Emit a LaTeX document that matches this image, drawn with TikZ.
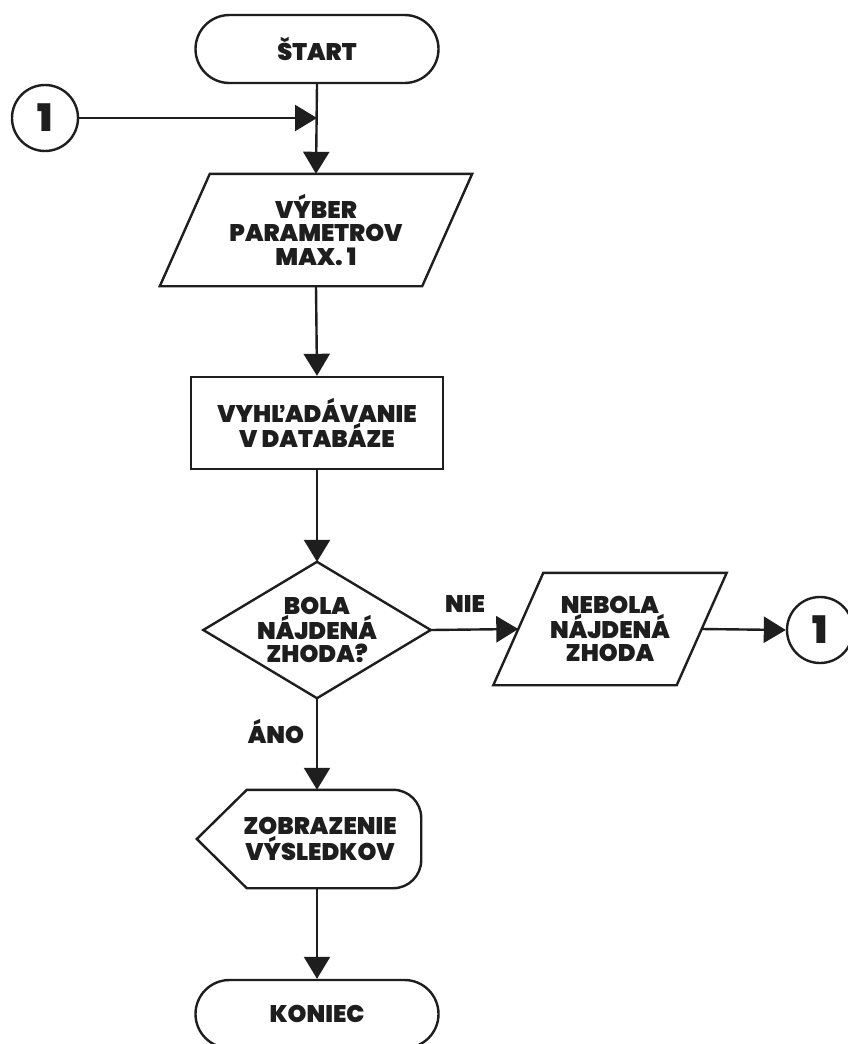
\documentclass[tikz,border=0pt]{standalone}
\usepackage{fontspec}
\setmainfont{Poppins}
\newfontfamily\heavy{Poppins Black}
\usetikzlibrary{arrows.meta,shapes.misc,calc}
\definecolor{ink}{HTML}{1E1E1E}
\tikzset{
  every node/.style={font=\heavy\fontsize{24}{23.5}\selectfont, text=ink, align=center},
  ln/.style={draw=ink, line width=2.4pt},
  arr/.style={ln, -{Triangle[length=22pt,width=26pt]}},
  term/.style={ln, shape=rounded rectangle, minimum width=243pt, minimum height=68pt, inner sep=0pt},
  conn/.style={ln, shape=circle, minimum size=66pt, inner sep=0pt, font=\heavy\fontsize{38}{38}\selectfont},
  box/.style={draw=none, shape=rectangle, inner sep=0pt},
  lbl/.style={draw=none, inner sep=0pt}
}
\begin{document}
\begin{tikzpicture}[x=1pt,y=-1pt]
\useasboundingbox (0,0) rectangle (848,1044);
\clip (0,0) rectangle (848,1044);
\fill[white] (0,0) rectangle (848,1044);

% nodes
\node[term] (start) at (317,49) {ŠTART};
\node[conn] (c1) at (45,118) {1};
\node[box, minimum width=262pt, minimum height=112pt] (vyber) at (316,230) {VÝBER\\PARAMETROV\\MAX. 1};
\draw[ln] ([xshift=25pt]vyber.north west) -- ([xshift=25pt]vyber.north east)
  -- ([xshift=-25pt]vyber.south east) -- ([xshift=-25pt]vyber.south west) -- cycle;
\node[box, ln, minimum width=252pt, minimum height=92pt] (rect) at (317,423) {VYHĽADÁVANIE\\V DATABÁZE};
\node[box, minimum width=227pt, minimum height=136pt] (dia) at (317,630) {BOLA\\NÁJDENÁ\\ZHODA?};
\draw[ln] (dia.north) -- (dia.east) -- (dia.south) -- (dia.west) -- cycle;
\node[box, minimum width=183pt, minimum height=112pt] (neb) at (610,629) {NEBOLA\\NÁJDENÁ\\ZHODA};
\draw[ln] ([xshift=25pt]neb.north west) -- ([xshift=25pt]neb.north east)
  -- ([xshift=-25pt]neb.south east) -- ([xshift=-25pt]neb.south west) -- cycle;
\node[conn] (c2) at (820,630) {1};
\node[box, minimum width=224pt, minimum height=98pt] (disp) at (309,839) {};
\draw[ln] (disp.west) -- ([xshift=50pt]disp.north west) -- ([xshift=-28pt]disp.north east)
  arc[start angle=90,end angle=0,radius=28pt] -- ([yshift=28pt]disp.south east)
  arc[start angle=0,end angle=-90,radius=28pt] -- ([xshift=50pt]disp.south west) -- cycle;
\node[lbl] (disptext) at (320,839) {ZOBRAZENIE\\VÝSLEDKOV};
\node[term] (end) at (317,1014) {KONIEC};

% labels
\node[lbl] (nie) at (465,604) {NIE};
\node[lbl] (ano) at (276,731) {ÁNO};

% connectors
\draw[arr] (c1.east) -- (c1.east -| start.south);
\draw[arr] (start.south) -- (vyber.north);
\draw[arr] (vyber.south) -- (rect.north);
\draw[arr] (rect.south) -- (dia.north);
\draw[arr] (dia.east) -- (neb.west);
\draw[arr] (neb.east) -- (c2.west);
\draw[arr] (dia.south) -- (dia.south |- disp.north);
\draw[arr] (dia.south |- disp.south) -- (end.north);
\end{tikzpicture}
\end{document}
